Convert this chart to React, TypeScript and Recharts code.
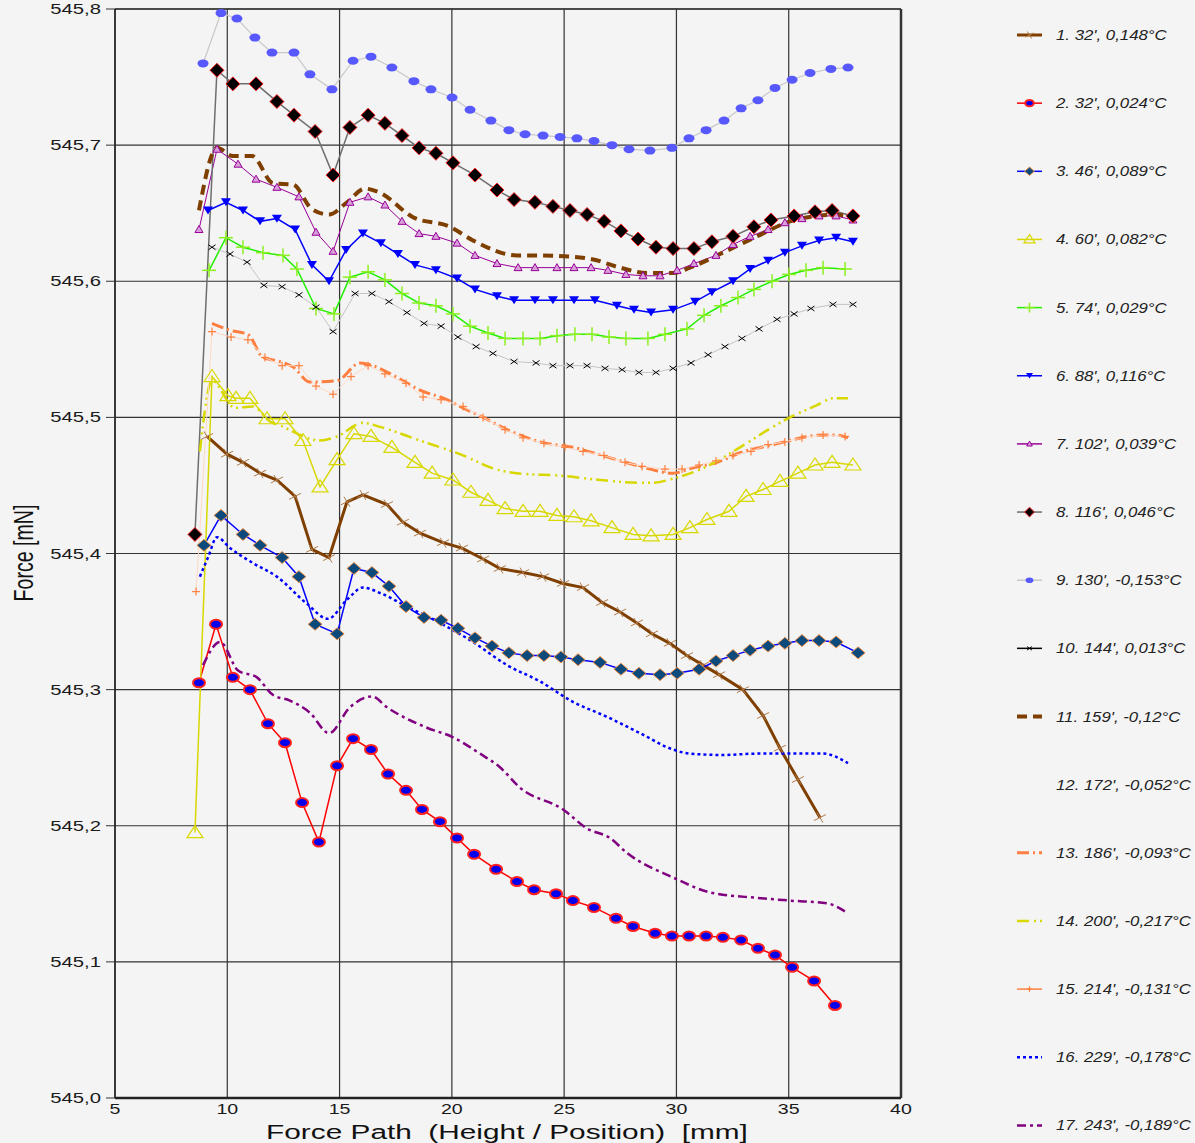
import React from "react";
import { LineChart, Line, XAxis, YAxis, CartesianGrid, ReferenceLine } from "recharts";

type Pt = [number, number];

// force path [mm] vs force [mN]
const s01: Pt[] = [[9.10,545.486],[9.99,545.473],[10.70,545.467],[11.46,545.459],[12.21,545.454],[13.02,545.442],[13.77,545.403],[14.53,545.397],[15.33,545.438],[16.04,545.443],[17.11,545.436],[17.82,545.423],[18.58,545.415],[19.61,545.408],[20.45,545.404],[21.39,545.396],[22.14,545.389],[23.17,545.386],[24.06,545.383],[24.95,545.378],[25.84,545.375],[26.69,545.364],[27.49,545.357],[28.24,545.349],[28.91,545.341],[29.71,545.334],[30.47,545.325],[31.18,545.318],[31.90,545.311],[32.96,545.300],[33.86,545.281],[34.61,545.257],[35.41,545.234],[36.39,545.206]];
const s02: Pt[] = [[8.74,545.305],[9.50,545.348],[10.25,545.309],[11.01,545.300],[11.81,545.275],[12.57,545.261],[13.33,545.217],[14.08,545.188],[14.89,545.244],[15.60,545.264],[16.40,545.256],[17.16,545.238],[17.96,545.226],[18.67,545.212],[19.47,545.203],[20.23,545.191],[20.99,545.179],[21.97,545.168],[22.90,545.159],[23.66,545.153],[24.64,545.150],[25.39,545.145],[26.33,545.140],[27.31,545.132],[28.07,545.126],[29.05,545.121],[29.80,545.119],[30.56,545.119],[31.32,545.119],[32.07,545.118],[32.88,545.116],[33.63,545.110],[34.39,545.105],[35.15,545.096],[36.13,545.086],[37.06,545.068]];
const s03: Pt[] = [[8.96,545.406],[9.72,545.428],[10.70,545.414],[11.46,545.406],[12.44,545.397],[13.19,545.383],[13.91,545.348],[14.89,545.341],[15.64,545.389],[16.44,545.386],[17.20,545.376],[17.96,545.361],[18.76,545.353],[19.52,545.351],[20.27,545.345],[21.03,545.338],[21.79,545.332],[22.54,545.327],[23.35,545.325],[24.10,545.325],[24.86,545.324],[25.62,545.322],[26.60,545.320],[27.53,545.315],[28.33,545.312],[29.27,545.311],[30.03,545.312],[31.01,545.315],[31.76,545.321],[32.52,545.325],[33.28,545.329],[34.08,545.332],[34.83,545.334],[35.59,545.336],[36.35,545.336],[37.11,545.335],[38.09,545.327]];
const s04: Pt[] = [[8.56,545.195],[9.32,545.530],[10.03,545.516],[10.39,545.514],[11.01,545.514],[11.77,545.499],[12.57,545.499],[13.37,545.483],[14.13,545.449],[14.89,545.469],[15.64,545.488],[16.40,545.486],[17.33,545.478],[18.36,545.467],[19.12,545.459],[20.05,545.454],[20.85,545.445],[21.61,545.439],[22.37,545.433],[23.17,545.431],[23.93,545.431],[24.68,545.428],[25.44,545.427],[26.20,545.424],[27.13,545.419],[28.07,545.414],[28.87,545.413],[29.85,545.414],[30.60,545.419],[31.36,545.425],[32.34,545.431],[33.10,545.442],[33.86,545.447],[34.61,545.453],[35.41,545.459],[36.17,545.465],[36.93,545.467],[37.86,545.465]];
const s05: Pt[] = [[9.19,545.608],[9.94,545.632],[10.70,545.625],[11.59,545.621],[12.48,545.619],[13.10,545.609],[13.95,545.580],[14.75,545.576],[15.46,545.603],[16.27,545.607],[17.02,545.601],[17.78,545.591],[18.54,545.584],[19.29,545.582],[20.05,545.576],[20.81,545.567],[21.61,545.562],[22.37,545.558],[23.17,545.558],[23.93,545.558],[24.68,545.560],[25.48,545.561],[26.24,545.561],[27.00,545.559],[27.75,545.558],[28.73,545.558],[29.49,545.561],[30.47,545.565],[31.23,545.575],[31.98,545.582],[32.74,545.588],[33.45,545.594],[34.26,545.600],[35.01,545.605],[35.77,545.608],[36.53,545.610],[37.51,545.609]];
const s06: Pt[] = [[9.14,545.652],[9.94,545.658],[10.70,545.652],[11.46,545.644],[12.21,545.646],[13.02,545.638],[13.77,545.612],[14.53,545.600],[15.29,545.623],[16.04,545.635],[16.84,545.628],[17.60,545.620],[18.36,545.612],[19.29,545.608],[20.23,545.602],[21.03,545.594],[22.01,545.589],[22.77,545.586],[23.70,545.586],[24.50,545.586],[25.44,545.586],[26.37,545.586],[27.35,545.582],[28.11,545.579],[28.87,545.577],[29.85,545.579],[30.83,545.585],[31.58,545.592],[32.52,545.600],[33.28,545.609],[34.08,545.615],[34.83,545.621],[35.59,545.626],[36.35,545.630],[37.11,545.632],[37.86,545.629]];
const s07: Pt[] = [[8.74,545.638],[9.54,545.697],[10.48,545.686],[11.28,545.675],[12.21,545.669],[13.19,545.662],[13.95,545.636],[14.71,545.622],[15.46,545.658],[16.27,545.662],[17.02,545.656],[17.78,545.644],[18.54,545.635],[19.29,545.633],[20.23,545.628],[21.03,545.619],[22.01,545.613],[22.95,545.610],[23.70,545.610],[24.68,545.610],[25.44,545.610],[26.20,545.610],[26.95,545.608],[27.75,545.605],[28.51,545.604],[29.27,545.604],[30.03,545.608],[30.78,545.613],[31.76,545.619],[32.52,545.627],[33.28,545.633],[34.08,545.638],[34.83,545.643],[35.59,545.646],[36.35,545.648],[37.11,545.648],[37.86,545.645]];
const s08: Pt[] = [[8.56,545.414],[9.54,545.755],[10.25,545.745],[11.28,545.745],[12.21,545.732],[12.97,545.722],[13.91,545.710],[14.71,545.678],[15.46,545.713],[16.27,545.722],[17.02,545.716],[17.78,545.707],[18.54,545.698],[19.29,545.694],[20.05,545.687],[21.03,545.678],[22.01,545.667],[22.77,545.660],[23.70,545.658],[24.50,545.655],[25.26,545.652],[26.02,545.649],[26.78,545.644],[27.53,545.637],[28.29,545.631],[29.09,545.625],[29.85,545.624],[30.78,545.624],[31.58,545.629],[32.52,545.633],[33.45,545.640],[34.21,545.645],[35.24,545.648],[36.17,545.651],[36.93,545.652],[37.86,545.648]];
const s09: Pt[] = [[8.92,545.760],[9.72,545.797],[10.43,545.793],[11.23,545.779],[11.99,545.768],[12.97,545.768],[13.68,545.752],[14.66,545.741],[15.60,545.762],[16.40,545.765],[17.33,545.757],[18.31,545.747],[19.07,545.741],[20.01,545.735],[20.81,545.726],[21.74,545.718],[22.54,545.711],[23.26,545.708],[24.06,545.707],[24.82,545.706],[25.57,545.705],[26.33,545.703],[27.13,545.700],[27.89,545.697],[28.82,545.696],[29.80,545.698],[30.56,545.705],[31.32,545.711],[32.12,545.718],[32.88,545.727],[33.63,545.733],[34.39,545.742],[35.15,545.748],[35.95,545.753],[36.88,545.756],[37.64,545.757]];
const s10: Pt[] = [[9.32,545.625],[10.12,545.620],[10.88,545.614],[11.63,545.597],[12.44,545.596],[13.19,545.590],[13.95,545.581],[14.71,545.563],[15.69,545.591],[16.44,545.591],[17.20,545.585],[18.00,545.577],[18.76,545.569],[19.52,545.567],[20.27,545.559],[21.08,545.552],[21.83,545.547],[22.77,545.541],[23.75,545.540],[24.50,545.538],[25.26,545.538],[26.02,545.538],[26.82,545.536],[27.58,545.535],[28.33,545.533],[29.09,545.533],[29.85,545.536],[30.65,545.540],[31.41,545.546],[32.16,545.552],[32.92,545.558],[33.68,545.565],[34.48,545.572],[35.24,545.576],[35.99,545.580],[36.97,545.583],[37.86,545.583]];
const s11: Pt[] = [[8.74,545.652],[9.54,545.698],[10.25,545.692],[11.10,545.692],[12.04,545.672],[12.93,545.671],[13.77,545.653],[14.53,545.649],[15.33,545.658],[16.13,545.668],[16.80,545.665],[18.27,545.647],[19.92,545.640],[20.94,545.630],[22.90,545.619],[23.61,545.619],[25.39,545.618],[26.29,545.616],[27.49,545.610],[28.69,545.606],[29.85,545.606],[30.60,545.610],[32.07,545.621],[33.59,545.633],[35.06,545.644],[36.26,545.648],[36.97,545.649],[38.04,545.647]];
const s13: Pt[] = [[9.32,545.569],[10.12,545.564],[10.92,545.561],[11.59,545.544],[12.35,545.541],[12.93,545.537],[13.68,545.526],[14.89,545.527],[15.91,545.540],[16.49,545.538],[17.38,545.531],[18.58,545.520],[19.78,545.513],[20.36,545.508],[21.39,545.500],[22.46,545.491],[23.93,545.482],[25.39,545.478],[26.91,545.471],[28.38,545.464],[29.85,545.459],[30.74,545.463],[31.81,545.467],[32.83,545.474],[34.30,545.480],[35.06,545.483],[35.81,545.486],[36.53,545.487],[37.15,545.487],[37.64,545.485]];
const s14: Pt[] = [[8.78,545.475],[9.32,545.527],[10.34,545.507],[11.14,545.508],[11.90,545.497],[12.35,545.494],[14.13,545.483],[14.89,545.486],[16.04,545.496],[16.80,545.493],[18.58,545.483],[20.36,545.473],[22.14,545.461],[22.90,545.459],[24.95,545.457],[26.60,545.454],[28.38,545.452],[28.96,545.452],[29.85,545.455],[31.36,545.464],[32.83,545.478],[34.30,545.493],[35.06,545.500],[36.26,545.509],[36.97,545.514],[37.64,545.514]];
const s15: Pt[] = [[8.61,545.372],[9.32,545.563],[10.17,545.559],[10.92,545.557],[11.68,545.544],[12.44,545.538],[13.19,545.538],[13.95,545.523],[14.71,545.517],[15.51,545.530],[16.27,545.538],[17.02,545.532],[17.96,545.525],[18.72,545.515],[19.52,545.513],[20.50,545.508],[21.39,545.500],[22.37,545.491],[23.17,545.485],[24.10,545.481],[25.04,545.478],[25.84,545.475],[26.77,545.472],[27.71,545.467],[28.47,545.464],[29.49,545.462],[30.25,545.462],[31.01,545.465],[31.76,545.468],[32.52,545.472],[33.32,545.475],[34.08,545.480],[34.83,545.482],[35.59,545.485],[36.53,545.487],[37.51,545.486]];
const s16: Pt[] = [[8.78,545.383],[9.14,545.397],[9.54,545.412],[10.12,545.404],[11.14,545.393],[12.21,545.383],[13.55,545.363],[14.48,545.352],[15.33,545.366],[16.04,545.375],[16.80,545.371],[18.00,545.361],[19.47,545.349],[20.94,545.335],[22.46,545.318],[23.93,545.306],[25.39,545.291],[26.91,545.280],[28.38,545.268],[29.85,545.256],[30.60,545.253],[32.07,545.252],[33.59,545.253],[35.06,545.253],[35.81,545.253],[36.53,545.253],[37.64,545.246]];
const s17: Pt[] = [[8.92,545.318],[9.68,545.335],[10.48,545.314],[11.32,545.309],[12.04,545.296],[12.79,545.292],[13.68,545.283],[14.53,545.268],[15.46,545.287],[16.44,545.295],[17.11,545.287],[18.89,545.272],[20.05,545.265],[21.25,545.253],[22.14,545.243],[23.03,545.228],[24.95,545.212],[26.02,545.198],[27.04,545.191],[27.80,545.180],[29.85,545.162],[31.50,545.151],[33.59,545.147],[35.06,545.145],[36.71,545.143],[37.51,545.137]];

const xTicks = [5, 10, 15, 20, 25, 30, 35, 40];
const yTicks = [545.0, 545.1, 545.2, 545.3, 545.4, 545.5, 545.6, 545.7, 545.8];

const legendLabels = [
  "1. 32', 0,148°C",
  "2. 32', 0,024°C",
  "3. 46', 0,089°C",
  "4. 60', 0,082°C",
  "5. 74', 0,029°C",
  "6. 88', 0,116°C",
  "7. 102', 0,039°C",
  "8. 116', 0,046°C",
  "9. 130', -0,153°C",
  "10. 144', 0,013°C",
  "11. 159', -0,12°C",
  "12. 172', -0,052°C",
  "13. 186', -0,093°C",
  "14. 200', -0,217°C",
  "15. 214', -0,131°C",
  "16. 229', -0,178°C",
  "17. 243', -0,189°C",
];

type Style = {
  pts: Pt[] | null;
  stroke: string;
  width: number;
  dash?: string;
  marker?: string;
  curve?: "linear" | "monotone";
  legendStroke?: string;
};

const styles: Style[] = [
  { pts: s01, stroke: "#7f3f00", width: 3, marker: "hash" },
  { pts: s02, stroke: "#ff0000", width: 1.5, marker: "redEllipse" },
  { pts: s03, stroke: "#0000ff", width: 1.5, marker: "blueDiamond" },
  { pts: s04, stroke: "#d8d800", width: 1.5, marker: "openTri" },
  { pts: s05, stroke: "#22ee00", width: 1.5, marker: "greenPlus" },
  { pts: s06, stroke: "#0000ff", width: 1.5, marker: "invTri" },
  { pts: s07, stroke: "#990099", width: 1, marker: "smallTri" },
  { pts: s08, stroke: "#6e6e6e", width: 1.5, marker: "blackDiamond" },
  { pts: s09, stroke: "#c8c8c8", width: 1.2, marker: "ball" },
  { pts: s10, stroke: "#c4c4c4", width: 1, marker: "smallX", legendStroke: "#000" },
  { pts: s11, stroke: "#7f3f00", width: 4, dash: "10 6", curve: "monotone" },
  { pts: null, stroke: "none", width: 0 },
  { pts: s13, stroke: "#ff7f40", width: 3, dash: "12 4 2 4", curve: "monotone" },
  { pts: s14, stroke: "#d8d800", width: 2.5, dash: "12 5 2 4 2 4", curve: "monotone" },
  { pts: s15, stroke: "#ffd8c4", width: 1, marker: "orangePlus", legendStroke: "#ff8040" },
  { pts: s16, stroke: "#0000ff", width: 2.5, dash: "3 3", curve: "monotone" },
  { pts: s17, stroke: "#800080", width: 2.5, dash: "9 4 3 4", curve: "monotone" },
];

function marker(kind: string | undefined, cx: number, cy: number, key: string, s = 1) {
  if (!kind || cx == null || cy == null) return <g key={key} />;
  switch (kind) {
    case "hash":
      return (
        <g key={key} stroke="#b07a48" strokeWidth={1}>
          <line x1={cx - 6 * s} y1={cy + 3 * s} x2={cx + 6 * s} y2={cy - 3 * s} />
          <line x1={cx - 3 * s} y1={cy - 5 * s} x2={cx + 3 * s} y2={cy + 5 * s} />
        </g>
      );
    case "redEllipse":
      return <ellipse key={key} cx={cx} cy={cy} rx={6 * s} ry={4.5 * s} fill="#0000ee" stroke="#ff2020" strokeWidth={2} />;
    case "blueDiamond":
      return <polygon key={key} points={`${cx},${cy - 6 * s} ${cx + 7 * s},${cy} ${cx},${cy + 6 * s} ${cx - 7 * s},${cy}`} fill="#0b4a7a" stroke="#f0904a" strokeWidth={1} />;
    case "openTri":
      return <polygon key={key} points={`${cx},${cy - 7 * s} ${cx + 8 * s},${cy + 5 * s} ${cx - 8 * s},${cy + 5 * s}`} fill="none" stroke="#d8d800" strokeWidth={1.2} />;
    case "greenPlus":
      return (
        <g key={key} stroke="#8cf020" strokeWidth={1.5}>
          <line x1={cx - 7 * s} y1={cy} x2={cx + 7 * s} y2={cy} />
          <line x1={cx} y1={cy - 7 * s} x2={cx} y2={cy + 7 * s} />
        </g>
      );
    case "invTri":
      return <polygon key={key} points={`${cx - 5 * s},${cy - 4 * s} ${cx + 5 * s},${cy - 4 * s} ${cx},${cy + 4 * s}`} fill="#0000ff" />;
    case "smallTri":
      return <polygon key={key} points={`${cx},${cy - 4 * s} ${cx + 4 * s},${cy + 3 * s} ${cx - 4 * s},${cy + 3 * s}`} fill="#d8a0d8" stroke="#990099" strokeWidth={1} />;
    case "blackDiamond":
      return <polygon key={key} points={`${cx},${cy - 7 * s} ${cx + 7 * s},${cy} ${cx},${cy + 7 * s} ${cx - 7 * s},${cy}`} fill="#000" stroke="#ff2020" strokeWidth={1} />;
    case "ball":
      return <ellipse key={key} cx={cx} cy={cy} rx={5.5 * s} ry={4 * s} fill="#5858ff" />;
    case "smallX":
      return (
        <g key={key} stroke="#000" strokeWidth={1}>
          <line x1={cx - 3.5 * s} y1={cy - 2.5 * s} x2={cx + 3.5 * s} y2={cy + 2.5 * s} />
          <line x1={cx - 3.5 * s} y1={cy + 2.5 * s} x2={cx + 3.5 * s} y2={cy - 2.5 * s} />
        </g>
      );
    case "orangePlus":
      return (
        <g key={key} stroke="#ff8040" strokeWidth={1.2}>
          <line x1={cx - 4 * s} y1={cy} x2={cx + 4 * s} y2={cy} />
          <line x1={cx} y1={cy - 4 * s} x2={cx} y2={cy + 4 * s} />
        </g>
      );
  }
  return <g key={key} />;
}

const toRows = (pts: Pt[]) => pts.map(([x, y]) => ({ x, y }));
const fmt = (v: number) => v.toFixed(1).replace(".", ",");
const font = "'Liberation Sans', Arial, sans-serif";

function YTick(props: any) {
  const { y, payload } = props;
  return (
    <text transform={`translate(101,${y + 5}) scale(1.45,1)`} textAnchor="end" fontSize={14} fontFamily={font} fill="#1a1a1a">
      {fmt(payload.value)}
    </text>
  );
}

function XTick(props: any) {
  const { x, payload } = props;
  return (
    <text transform={`translate(${x},1114) scale(1.4,1)`} textAnchor="middle" fontSize={14} fontFamily={font} fill="#1a1a1a">
      {payload.value}
    </text>
  );
}

export default function App() {
  return (
    <div style={{ position: "absolute", left: 0, top: 0, width: 1195, height: 1143, background: "#f4f4f4", overflow: "hidden" }}>
      <LineChart width={1195} height={1143} margin={{ top: 9, right: 294, bottom: 0, left: 0 }}>
        <CartesianGrid stroke="#333" strokeWidth={1.2} />
        <XAxis
          type="number"
          dataKey="x"
          domain={[5, 40]}
          ticks={xTicks}
          height={45}
          tickLine={false}
          axisLine={{ stroke: "#222", strokeWidth: 2.5 }}
          tick={<XTick />}
          allowDataOverflow
        />
        <YAxis
          type="number"
          dataKey="y"
          domain={[545.0, 545.8]}
          ticks={yTicks}
          width={115}
          tickSize={9}
          tickLine={{ stroke: "#333" }}
          axisLine={{ stroke: "#222", strokeWidth: 1.5 }}
          tick={<YTick />}
          allowDataOverflow
        />
        <ReferenceLine x={40} stroke="#333" strokeWidth={2.5} />
        <ReferenceLine y={545.8} stroke="#333" strokeWidth={1.5} />
        {styles.map((st, i) =>
          st.pts ? (
            <Line
              key={`s${i}`}
              data={toRows(st.pts)}
              dataKey="y"
              type={st.curve ?? "linear"}
              stroke={st.stroke}
              strokeWidth={st.width}
              strokeDasharray={st.dash}
              dot={(p: any) => marker(st.marker, p.cx, p.cy, `m${i}-${p.index}`)}
              activeDot={false}
              isAnimationActive={false}
            />
          ) : null
        )}
      </LineChart>

      <svg width={1195} height={1143} style={{ position: "absolute", left: 0, top: 0, pointerEvents: "none" }}>
        <text transform="translate(33,553) rotate(-90) scale(0.7,1)" textAnchor="middle" fontSize={28} fontFamily={font} fill="#111">
          Force [mN]
        </text>
        <text transform="translate(507,1139) scale(1.42,1)" textAnchor="middle" fontSize={21} fontFamily={font} fill="#111" style={{ whiteSpace: "pre" }}>
          {"Force Path  (Height / Position)  [mm]"}
        </text>
        {legendLabels.map((label, i) => {
          const st = styles[i];
          const cy = 35 + i * 68.15;
          return (
            <g key={label}>
              {st.pts ? (
                <line x1={1017} y1={cy} x2={1042} y2={cy} stroke={st.legendStroke ?? st.stroke} strokeWidth={Math.max(st.width, 1.5)} strokeDasharray={st.dash ? st.dash : undefined} />
              ) : null}
              {marker(st.marker, 1029.5, cy, `lg${i}`, 0.7)}
              <text transform={`translate(1056,${cy + 5}) scale(1.12,1)`} fontSize={15} fontStyle="italic" fontFamily={font} fill="#222">
                {label}
              </text>
            </g>
          );
        })}
      </svg>
    </div>
  );
}
